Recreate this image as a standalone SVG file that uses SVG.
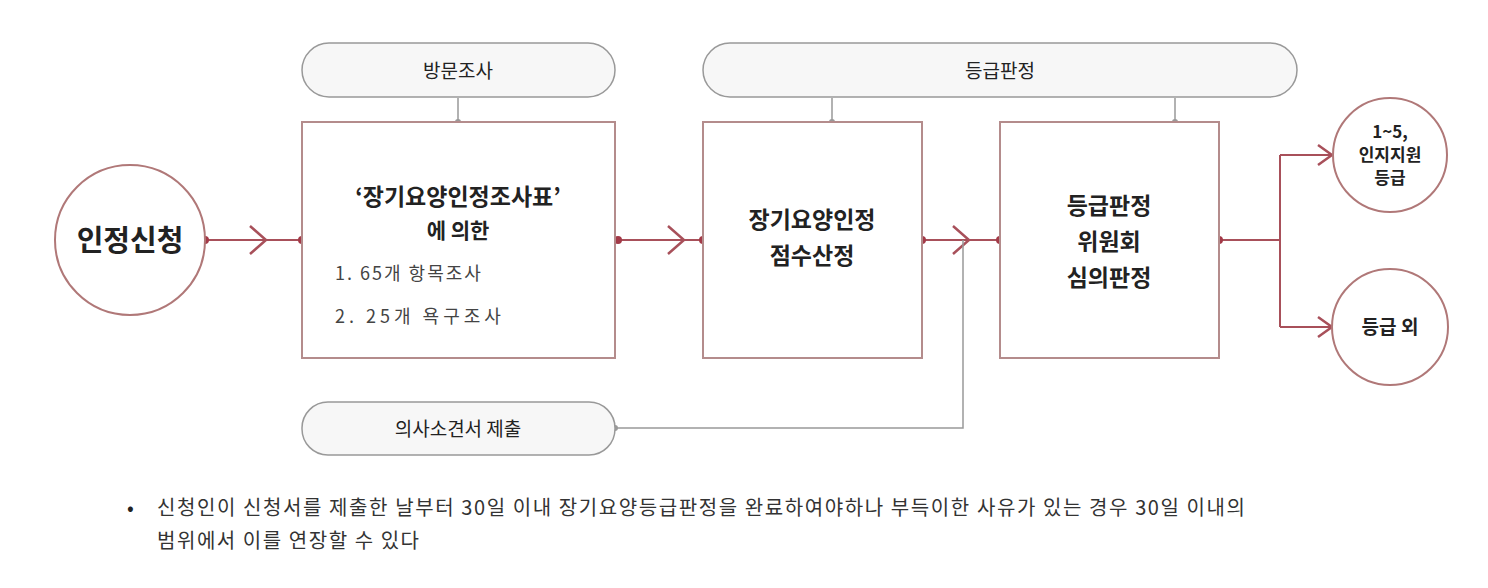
<svg xmlns="http://www.w3.org/2000/svg" width="1488" height="588" viewBox="0 0 1488 588">
<style>
text{font-family:"Noto Sans CJK KR","Liberation Sans",sans-serif;fill:#222;text-anchor:middle}
.box{fill:#fff;stroke:#b48c8c;stroke-width:2}
.circ{fill:#fff;stroke:#b07878;stroke-width:2}
.pill{fill:#f7f7f7;stroke:#999;stroke-width:1.5}
.ln{fill:none;stroke:#a8505a;stroke-width:2}
.gl{fill:none;stroke:#999;stroke-width:1.5}
.chev{fill:none;stroke:#a8505a;stroke-width:2.5}
.dot{fill:#a33a48}
.gdot{fill:#999}
</style>
<rect width="1488" height="588" fill="#fff"/>
<g id="connectors">
<path class="ln" d="M205,240H302M618,240H703M922,240H1000M1219,240H1280M1280,155V327M1280,155H1333M1280,327H1333"/>
<path class="chev" d="M250,226L266,240L250,254M668,226L684,240L668,254M953,226L969,240L953,254M1318,145L1332,155L1318,165M1318,317L1332,327L1318,337"/>
<path class="gl" d="M458,98V122M832,98V122M1175,98V122M615,428H963V240"/>
<circle class="dot" cx="205" cy="240" r="4"/><circle class="dot" cx="302" cy="240" r="4"/>
<circle class="dot" cx="618" cy="240" r="4"/><circle class="dot" cx="703" cy="240" r="4"/>
<circle class="dot" cx="922" cy="240" r="4"/><circle class="dot" cx="1000" cy="240" r="4"/>
<circle class="dot" cx="1219" cy="240" r="4"/>
<circle class="gdot" cx="458" cy="122" r="3"/><circle class="gdot" cx="832" cy="122" r="3"/><circle class="gdot" cx="1175" cy="122" r="3"/><circle class="gdot" cx="615" cy="428" r="3"/>
</g>
<g id="n-apply"><circle class="circ" cx="130" cy="240" r="75"/><text x="130" y="251" font-size="29" font-weight="bold">인정신청</text></g>
<g id="n-visit"><rect class="pill" x="302" y="43" width="313" height="54" rx="27"/><text x="458" y="78" font-size="19">방문조사</text></g>
<g id="n-box1"><rect class="box" x="302" y="122" width="313" height="236"/>
<text x="458" y="205" font-size="23" font-weight="bold">‘장기요양인정조사표’</text>
<text x="458" y="238" font-size="21" font-weight="bold">에 의한</text>
<text x="335" y="280" font-size="18" letter-spacing="2" style="text-anchor:start;fill:#444">1. 65개 항목조사</text>
<text x="335" y="323" font-size="18" letter-spacing="4" style="text-anchor:start;fill:#444">2. 25개 욕구조사</text></g>
<g id="n-grade"><rect class="pill" x="703" y="43" width="594" height="54" rx="27"/><text x="1000" y="78" font-size="19">등급판정</text></g>
<g id="n-box2"><rect class="box" x="703" y="122" width="219" height="236"/>
<text x="812" y="228" font-size="23" font-weight="bold">장기요양인정</text>
<text x="812" y="264" font-size="23" font-weight="bold">점수산정</text></g>
<g id="n-box3"><rect class="box" x="1000" y="122" width="219" height="236"/>
<text x="1109" y="214" font-size="23" font-weight="bold">등급판정</text>
<text x="1109" y="250" font-size="23" font-weight="bold">위원회</text>
<text x="1109" y="286" font-size="23" font-weight="bold">심의판정</text></g>
<g id="n-doctor"><rect class="pill" x="302" y="402" width="313" height="53" rx="26"/><text x="458" y="436" font-size="19">의사소견서 제출</text></g>
<g id="n-res1"><circle class="circ" cx="1390" cy="155" r="57"/>
<text x="1390" y="138" font-size="17" font-weight="bold">1~5,</text>
<text x="1390" y="161" font-size="17" font-weight="bold">인지지원</text>
<text x="1390" y="184" font-size="17" font-weight="bold">등급</text></g>
<g id="n-res2"><circle class="circ" cx="1390" cy="327" r="58"/><text x="1390" y="334" font-size="19" font-weight="bold">등급 외</text></g>
<g id="note">
<text x="127" y="515" font-size="20" style="text-anchor:start">•</text>
<text x="157" y="515" font-size="20" textLength="1088" lengthAdjust="spacing" style="text-anchor:start;fill:#333">신청인이 신청서를 제출한 날부터 30일 이내 장기요양등급판정을 완료하여야하나 부득이한 사유가 있는 경우 30일 이내의</text>
<text x="157" y="548" font-size="20" textLength="262" lengthAdjust="spacing" style="text-anchor:start;fill:#333">범위에서 이를 연장할 수 있다</text>
</g>
</svg>
